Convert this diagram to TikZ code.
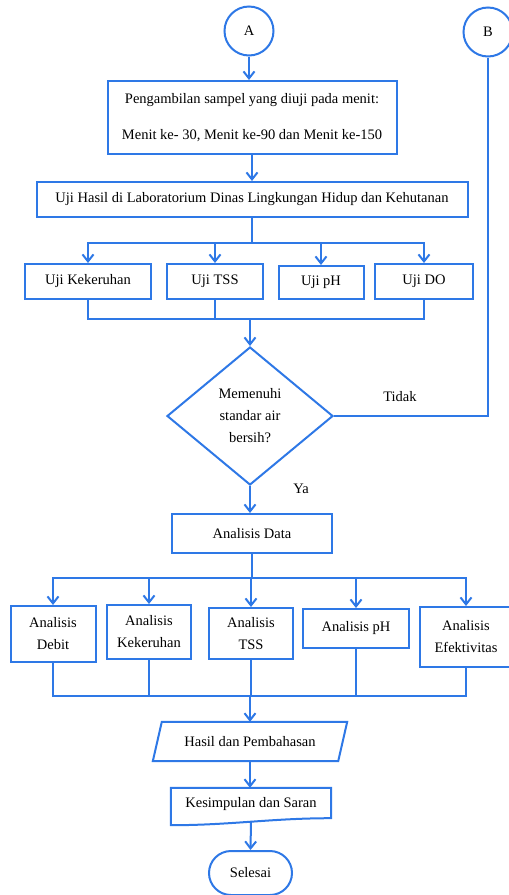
\documentclass[tikz,border=0pt]{standalone}
\usepackage{fontspec}
\setmainfont{Liberation Serif}
\usetikzlibrary{arrows.meta,shapes.geometric,shapes.misc}
\definecolor{flowblue}{RGB}{46,120,230}
\tikzset{
  flowtext/.style={font=\fontsize{14.5}{22}\selectfont},
  flowbox/.style={draw=flowblue,line width=2pt,inner sep=0pt,align=center,flowtext},
  flowline/.style={draw=flowblue,line width=2pt},
  flowbus/.style={flowline,line cap=rect},
  flowarrow/.style={flowline,-{Straight Barb[length=7pt,width=11pt]}},
}
\begin{document}
\begin{tikzpicture}[x=1pt,y=-1pt]
\useasboundingbox (0,0) rectangle (509,895);
\node[flowbox,circle,minimum size=49pt] (A) at (249,31) {A};
\node[flowbox,circle,minimum size=49pt] (B) at (488,32) {B};
\node[flowbox,minimum width=289pt,minimum height=73pt] (samp) at (252,117.5) {Pengambilan sampel yang diuji pada menit:\\[14pt]Menit ke- 30, Menit ke-90 dan Menit ke-150};
\node[flowbox,minimum width=431pt,minimum height=35pt] (lab) at (252,199.5) {Uji Hasil di Laboratorium Dinas Lingkungan Hidup dan Kehutanan};
\node[flowbox,minimum width=126pt,minimum height=35pt] (uk) at (88,281.5) {Uji Kekeruhan};
\node[flowbox,minimum width=96pt,minimum height=35pt] (ut) at (215,281.5) {Uji TSS};
\node[flowbox,minimum width=85pt,minimum height=33pt] (up) at (321,282.5) {Uji pH};
\node[flowbox,minimum width=98pt,minimum height=35pt] (ud) at (424,281.5) {Uji DO};
\node[flowbox,diamond,minimum width=166pt,minimum height=138pt] (dec) at (250,416) {Memenuhi\\standar air\\bersih?};
\node[flowtext] (tidak) at (400,397) {Tidak};
\node[flowtext] (ya) at (301,489) {Ya};
\node[flowbox,minimum width=160pt,minimum height=39pt] (data) at (252,533.5) {Analisis Data};
\node[flowbox,minimum width=85pt,minimum height=56pt] (ad) at (53,634) {Analisis\\Debit};
\node[flowbox,minimum width=84pt,minimum height=54pt] (ak) at (149,632) {Analisis\\Kekeruhan};
\node[flowbox,minimum width=84pt,minimum height=51pt] (at) at (251,633.5) {Analisis\\TSS};
\node[flowbox,minimum width=106pt,minimum height=39pt] (ap) at (356,628.5) {Analisis pH};
\node[flowbox,minimum width=92pt,minimum height=60pt] (ae) at (466,637) {Analisis\\Efektivitas};
\node[flowtext,minimum width=185pt,minimum height=39pt,inner sep=0pt] (hasil) at (250,741.5) {Hasil dan Pembahasan};
\draw[flowline] ([xshift=4.5pt]hasil.north west) -- ([xshift=4.5pt]hasil.north east) -- ([xshift=-4.5pt]hasil.south east) -- ([xshift=-4.5pt]hasil.south west) -- cycle;
\node[flowtext,minimum width=160pt,minimum height=32pt,inner sep=0pt] (kes) at (251,804) {Kesimpulan dan Saran};
\draw[flowline] (kes.north west) -- (kes.north east) -- ([yshift=2pt]kes.south east) .. controls +(-60,0) and +(60,0) .. ([yshift=-5pt]kes.south west) -- cycle;
\node[flowbox,rounded rectangle,minimum width=83pt,minimum height=44pt] (sel) at (250.5,873) {Selesai};
\coordinate (s1) at (252,243);
\coordinate (m1) at (250,319);
\coordinate (s2) at (252,578);
\coordinate (m2) at (250,696);
\draw[flowarrow] (A) -- (A |- samp.north);
\draw[flowarrow] (samp.south) -- (samp.south |- lab.north);
\draw[flowline] (lab.south) -- (lab.south |- s1);
\draw[flowbus] (uk.north |- s1) -- (ud.north |- s1);
\foreach \n in {uk,ut,up,ud} \draw[flowarrow] (\n.north |- s1) -- (\n.north);
\foreach \n in {uk,ut,ud} \draw[flowline] (\n.south) -- (\n.south |- m1);
\draw[flowbus] (uk.south |- m1) -- (ud.south |- m1);
\draw[flowarrow] (m1) -- (dec.north);
\draw[flowline] (dec.east) -| (B.south);
\draw[flowarrow] (dec.south) -- (dec.south |- data.north);
\draw[flowline] (data.south) -- (data.south |- s2);
\draw[flowbus] (ad.north |- s2) -- (ae.north |- s2);
\foreach \n in {ad,ak,at,ap,ae} \draw[flowarrow] (\n.north |- s2) -- (\n.north);
\foreach \n in {ad,ak,at,ap,ae} \draw[flowline] (\n.south) -- (\n.south |- m2);
\draw[flowbus] (ad.south |- m2) -- (ae.south |- m2);
\draw[flowarrow] (m2) -- (hasil.north);
\draw[flowarrow] (hasil.south) -- (hasil.south |- kes.north);
\draw[flowarrow] ([yshift=-1.5pt]kes.south) -- (sel.north);
\end{tikzpicture}
\end{document}
